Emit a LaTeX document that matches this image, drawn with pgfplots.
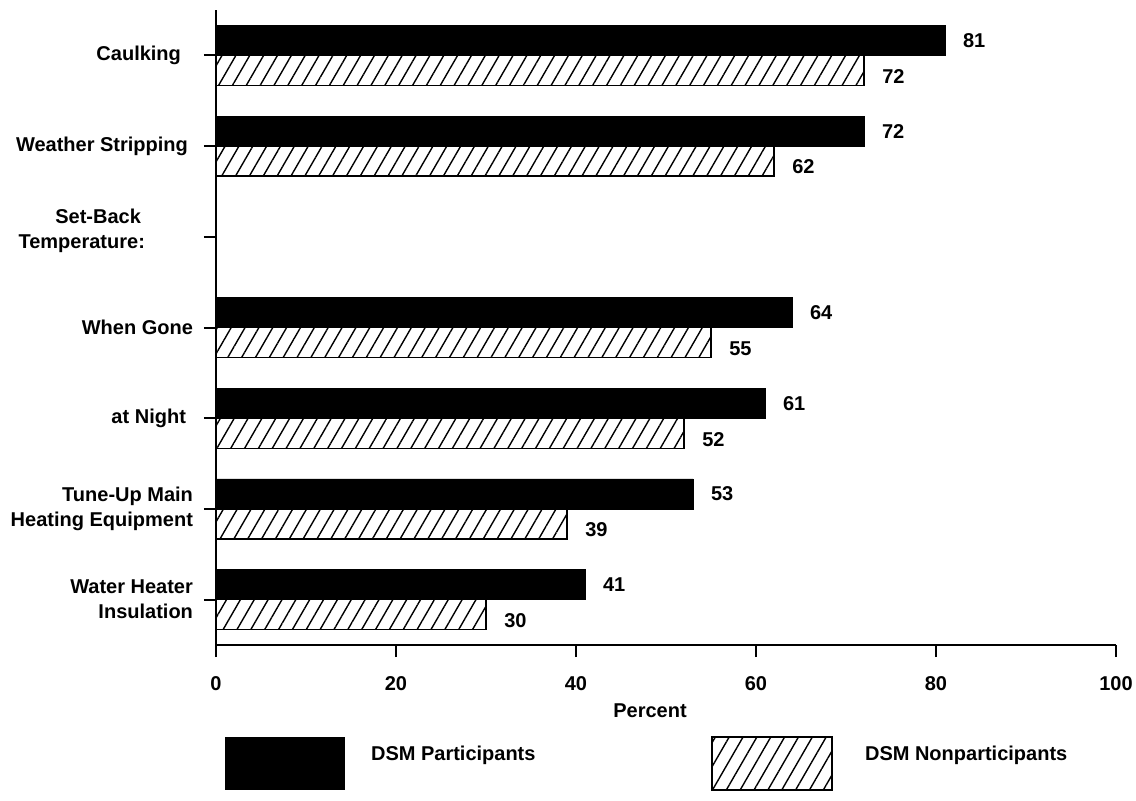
\documentclass[border=0pt]{standalone}
\usepackage{fontspec}
\setmainfont{Liberation Sans}
\usepackage{pgfplots}
\pgfplotsset{compat=1.18}
\usetikzlibrary{patterns.meta}

\begin{document}
\begin{tikzpicture}[font=\fontsize{10}{12.5}\selectfont\bfseries]
\useasboundingbox (-108pt,-77.5pt) rectangle (460pt,322.5pt);
\begin{axis}[
  at={(0,0)}, anchor=south west,
  scale only axis, width=450pt, height=317.5pt,
  xmin=0, xmax=100, ymin=-0.5, ymax=6.5,
  axis lines=left, axis line style={-, line width=1pt},
  xtick={0,20,...,100}, ytick={0,...,6},
  yticklabels={{Water Heater\\Insulation},{Tune-Up Main\\Heating Equipment},{at Night\hspace*{3.5pt}},{When Gone},{\raisebox{3pt}[\height][\depth]{\begin{tabular}{@{}r@{}}Set-Back\hspace*{2pt}\\Temperature:\end{tabular}}\hspace*{24pt}},{Weather Stripping\hspace*{2.5pt}},{Caulking\hspace*{6pt}}},
  tick align=outside, major tick length=6pt,
  tick style={line width=1pt, black},
  xbar, bar width=15pt,
  xlabel={Percent},
  xlabel style={xshift=-8pt},
  /pgf/number format/assume math mode=true,
  yticklabel style={align=right, xshift=-2pt},
  xticklabel style={yshift=-6pt},
  nodes near coords,
  every node near coord/.append style={anchor=west, xshift=5.5pt, black},
  clip=false,
]
\addplot[fill=black, draw=black, bar shift=7.5pt] coordinates {(81,6) (72,5) (64,3) (61,2) (53,1) (41,0)};
\addplot[draw=black, line width=0.6pt, pattern={Lines[angle=60,distance=6pt,line width=0.7pt]}, bar shift=-7.5pt,
  every node near coord/.append style={yshift=-3pt}] coordinates {(72,6) (62,5) (55,3) (52,2) (39,1) (30,0)};
\end{axis}
\fill[black] (4.5pt,-46pt) rectangle (64.5pt,-72.5pt);
\node[anchor=west] at (74pt,-55pt) {DSM Participants};
\draw[line width=0.6pt, pattern={Lines[angle=60,distance=6pt,line width=0.7pt]}] (248pt,-46pt) rectangle (308pt,-72.5pt);
\node[anchor=west] at (321pt,-55pt) {DSM Nonparticipants};
\end{tikzpicture}
\end{document}
